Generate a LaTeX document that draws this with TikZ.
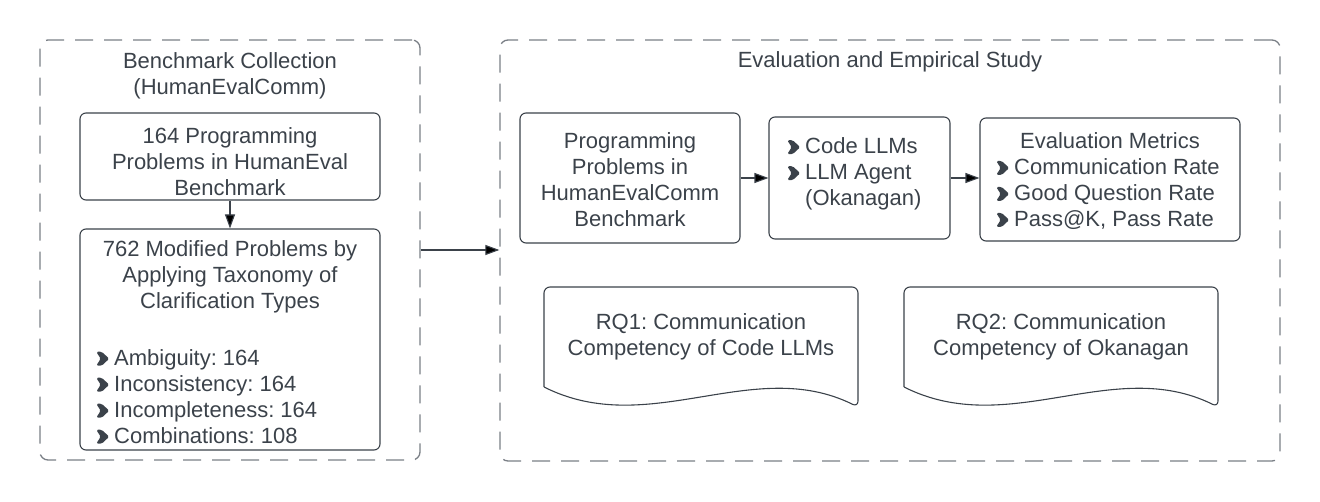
\documentclass[tikz,border=0pt]{standalone}
\usepackage{fontspec}
\setmainfont{Liberation Sans}
\usetikzlibrary{positioning,arrows.meta}
\definecolor{ink}{HTML}{3B424A}
\definecolor{rim}{HTML}{7A7F86}
\frenchspacing
% heavy chevron bullet
\newcommand{\bul}{\makebox[18pt][l]{\tikz[x=1pt,y=1pt,baseline=0pt]
  \fill[ink, rounded corners=1.6pt] (0,-0.5) -- (5.5,-0.5) -- (13,6.5) -- (5.5,13.5) -- (0,13.5) -- (4.5,6.5) -- cycle;}}
\tikzset{
  group/.style={draw=rim, line width=1.3pt, dash pattern=on 18pt off 11pt, rounded corners=8pt, inner sep=0pt},
  card/.style={draw=ink, line width=1.1pt, rounded corners=6pt, inner sep=0pt},
  words/.style={text=ink, align=center, inner sep=0pt, font=\fontsize{22}{26}\selectfont},
  items/.style={words, align=left, anchor=west},
  sheet/.style={draw=ink, line width=1.1pt, rounded corners=6pt},
  flow/.style={draw=ink, line width=1.1pt, -{Triangle[length=14pt,width=10pt]}},
}

\begin{document}
\begin{tikzpicture}[x=1pt,y=-1pt]
\useasboundingbox (0,0) rectangle (1320,502);
% the two dashed groups
\node[group, minimum width=380pt, minimum height=420pt] (bench) at (230,250) {};
\node[group, minimum width=780pt, minimum height=421pt] (study) at (890,250.5) {};
\node[words] (benchtitle) at (230,76) {Benchmark Collection\\(HumanEvalComm)};
\node[words] (studytitle) at (890,62) {Evaluation and Empirical Study};

% benchmark collection
\node[card, minimum width=300pt, minimum height=87pt] (orig) at (230,156.5) {};
\node[words] (origtxt) at (230,162) {164 Programming\\Problems in HumanEval\\Benchmark};
\node[card, minimum width=300pt, minimum height=221pt] (mod) at (230,339.5) {};
\node[words] (modtxt) at (230,277) {762 Modified Problems by\\Applying Taxonomy of\\Clarification Types};
\node[items] (modlist) at (96,396.5) {\bul Ambiguity: 164\\\bul Inconsistency: 164\\\bul Incompleteness: 164\\\bul Combinations: 108};

% evaluation pipeline
\node[card, minimum width=220pt, minimum height=130pt] (probs) at (630,178) {};
\node[words] (probstxt) at (630,180) {Programming\\Problems in\\HumanEvalComm\\Benchmark};
\node[card, minimum width=181pt, minimum height=122pt] (agents) at (859.5,178) {};
\node[items] (agentslist) at (787,174) {\bul Code LLMs\\\bul LLM Agent\\\hspace*{18pt}(Okanagan)};
\node[card, minimum width=260pt, minimum height=123pt] (metrics) at (1110,179.5) {};
\node[words] (metricstitle) at (1110,141) {Evaluation Metrics};
\node[items] (metricslist) at (996,194) {\bul Communication Rate\\\bul Good Question Rate\\\bul Pass@K, Pass Rate};

% research questions
\foreach \x/\q/\txt in {544/rqone/{RQ1: Communication\\Competency of Code LLMs},
                        904/rqtwo/{RQ2: Communication\\Competency of Okanagan}} {
  \draw[sheet] (\x,387) -- (\x,287) -- (\x+314,287) -- (\x+314,407)
    .. controls (\x+209,355) and (\x+105,440) .. (\x,387);
  \node[words] (\q) at (\x+157,337) {\txt};
}

% connectors
\draw[flow] (orig) -- (mod);
\draw[flow] (bench.east) -- (bench.east -| study.west);
\draw[flow] (probs) -- (agents);
\draw[flow] (agents.east) -- (agents.east -| metrics.west);
\end{tikzpicture}
\end{document}
